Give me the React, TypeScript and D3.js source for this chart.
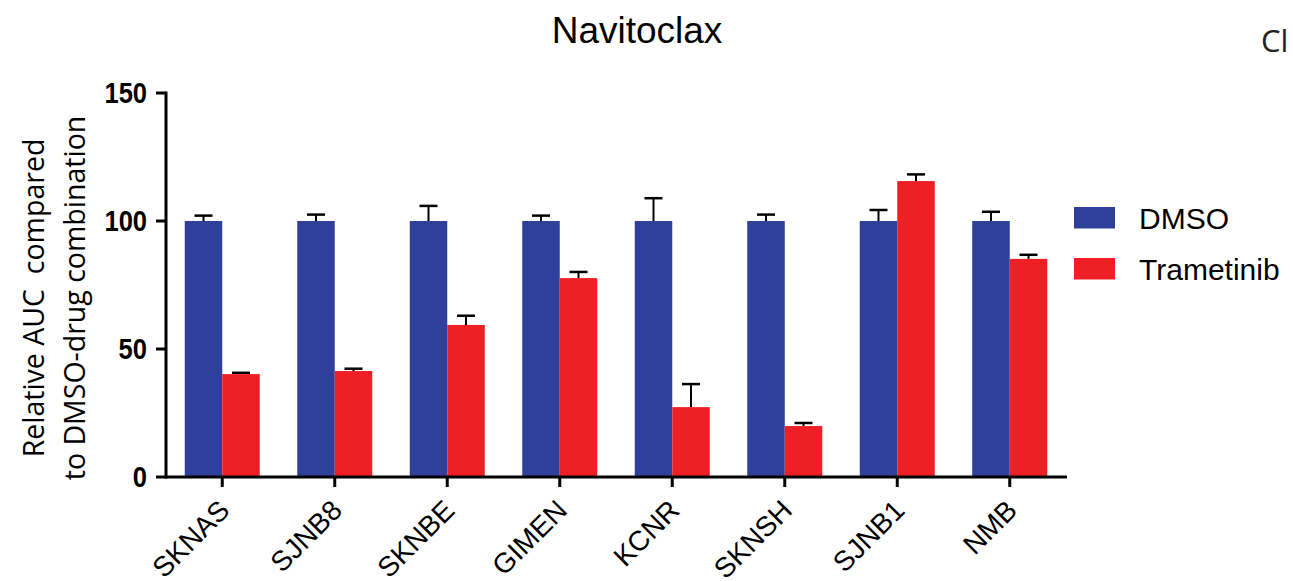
import React from 'react';
import * as d3 from 'd3';

const cellLines = ['SKNAS', 'SJNB8', 'SKNBE', 'GIMEN', 'KCNR', 'SKNSH', 'SJNB1', 'NMB'];
const seriesNames = ['DMSO', 'Trametinib'];
const dmsoMean = [100, 100, 100, 100, 100, 100, 100, 100];
const dmsoErr = [2.1, 2.5, 5.9, 2.1, 8.9, 2.5, 4.3, 3.6];
const trameMean = [40.2, 41.4, 59.4, 77.7, 27.3, 19.9, 115.6, 85.2];
const trameErr = [0.5, 0.9, 3.6, 2.4, 9.0, 1.2, 2.6, 1.6];
const yTicks = [0, 50, 100, 150];

const colors = { DMSO: '#2E4099', Trametinib: '#EE2025' };

export default function App() {
    const width = 1293;
    const height = 581;
    const left = 166, right = 1066, top = 93, bottom = 477;

    const x = d3.scaleBand<string>()
        .domain(cellLines)
        .range([left, right])
        .paddingInner(1 / 3)
        .paddingOuter(1 / 6);
    const sub = d3.scaleBand<string>()
        .domain(seriesNames)
        .range([0, x.bandwidth()]);
    const y = d3.scaleLinear().domain([0, 150]).range([bottom, top]);

    const rows = cellLines.map((c, i) => ({
        cell: c,
        vals: [
            { key: 'DMSO', mean: dmsoMean[i], err: dmsoErr[i] },
            { key: 'Trametinib', mean: trameMean[i], err: trameErr[i] }
        ]
    }));

    const sans = '"Liberation Sans", Arial, sans-serif';
    const open = '"Open Sans", sans-serif';

    // center of a band (tick position)
    const cx = (c: string) => (x(c) as number) + x.bandwidth() / 2;

    return (
        <div style={{ position: 'absolute', left: 0, top: 0 }}>
            <svg width={width} height={height} style={{ display: 'block', background: '#fff' }}>
                <text x={637} y={43} textAnchor="middle" fontFamily={sans} fontSize={37} fill="#000">
                    Navitoclax
                </text>
                <text x={1261} y={52} fontFamily={open} fontSize={31} fill="#222">Cl</text>

                {/* bars */}
                {rows.map(r => (
                    <g key={r.cell} transform={`translate(${x(r.cell)},0)`}>
                        {r.vals.map(v => {
                            const bx = sub(v.key) as number;
                            const bw = sub.bandwidth();
                            const mid = bx + bw / 2;
                            return (
                                <g key={v.key}>
                                    <line x1={mid} x2={mid} y1={y(v.mean)} y2={y(v.mean + v.err)}
                                        stroke="#000" strokeWidth={2} />
                                    <line x1={mid - 9} x2={mid + 9} y1={y(v.mean + v.err)} y2={y(v.mean + v.err)}
                                        stroke="#000" strokeWidth={2.5} />
                                    <rect x={bx} y={y(v.mean)} width={bw} height={bottom - y(v.mean)}
                                        fill={colors[v.key as keyof typeof colors]} />
                                </g>
                            );
                        })}
                    </g>
                ))}

                {/* y axis */}
                <line x1={left} x2={left} y1={top - 1.5} y2={bottom + 1.5} stroke="#000" strokeWidth={3} />
                {yTicks.map(t => (
                    <g key={t}>
                        <line x1={left - 10} x2={left} y1={y(t)} y2={y(t)} stroke="#000" strokeWidth={3} />
                        <text transform={`translate(147,${y(t)}) scale(0.88,1)`} dy="0.36em" textAnchor="end"
                            fontFamily={sans} fontWeight="bold" fontSize={29} fill="#000">{t}</text>
                    </g>
                ))}

                {/* x axis */}
                <line x1={left} x2={right + 1} y1={bottom} y2={bottom} stroke="#000" strokeWidth={3} />
                {cellLines.map(c => (
                    <g key={c}>
                        <line x1={cx(c)} x2={cx(c)} y1={bottom} y2={bottom + 10} stroke="#000" strokeWidth={3} />
                        <text transform={`translate(${cx(c) + 9},512) rotate(-45)`} textAnchor="end"
                            fontFamily={sans} fontSize={28} fill="#000">{c}</text>
                    </g>
                ))}

                {/* y label */}
                <g transform="rotate(-90)" fontFamily={open} fontSize={28.5} fill="#000">
                    <text x={-298} y={44} textAnchor="middle" style={{ whiteSpace: 'pre' }}>{'Relative AUC  compared'}</text>
                    <text x={-298} y={85} textAnchor="middle">to DMSO-drug combination</text>
                </g>

                {/* legend */}
                {seriesNames.map((s, i) => (
                    <g key={s} transform={`translate(1074,${207 + i * 51})`}>
                        <rect width={41} height={21.5} fill={colors[s as keyof typeof colors]} />
                        <text x={65} y={22} fontFamily={sans} fontSize={30} fill="#000">{s}</text>
                    </g>
                ))}
            </svg>
        </div>
    );
}
